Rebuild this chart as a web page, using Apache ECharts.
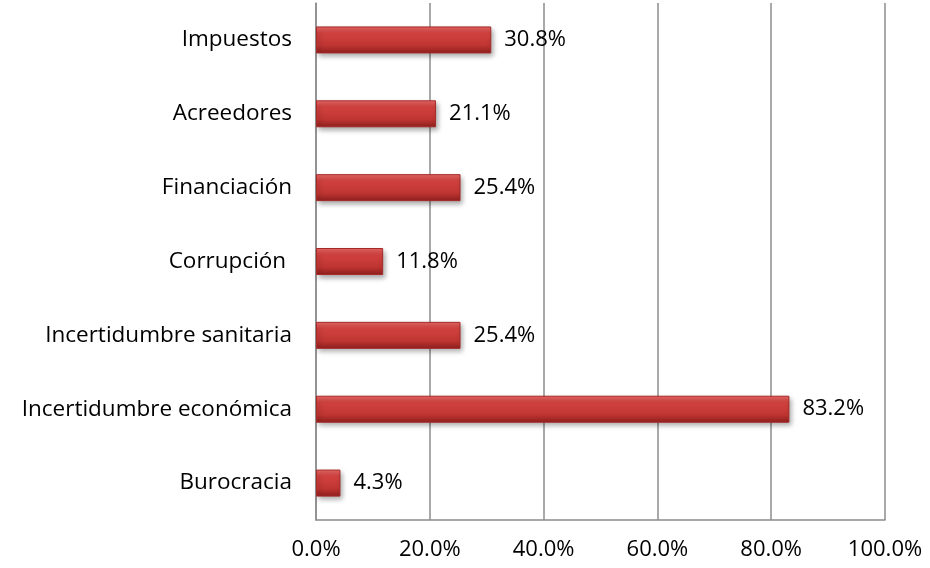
<!DOCTYPE html>
<html>
<head>
<meta charset="utf-8">
<script src="https://cdn.jsdelivr.net/npm/echarts@6/dist/echarts.min.js"></script>
<style>
    html, body { margin: 0; padding: 0; background: #fff; }
    #main { width: 930px; height: 568px; }
</style>
</head>
<body>
<div id="main"></div>
<script>
    // categorias de abajo hacia arriba
    var categories = ['Burocracia', 'Incertidumbre económica', 'Incertidumbre sanitaria', 'Corrupción ', 'Financiación', 'Acreedores', 'Impuestos'];
    var values = [4.3, 83.2, 25.4, 11.8, 25.4, 21.1, 30.8];
    var xTicks = [0, 20, 40, 60, 80, 100];

    var fontFam = '"Open Sans", sans-serif';
    var chart = echarts.init(document.getElementById('main'));
    chart.setOption({
        animation: false,
        grid: {
            left: 316,
            right: 45,
            top: 3,
            bottom: 48
        },
        xAxis: {
            type: 'value',
            min: xTicks[0],
            max: xTicks[xTicks.length - 1],
            interval: 20,
            axisLine: { show: true, lineStyle: { color: '#8c8c8c', width: 1.5 } },
            axisTick: { show: false },
            splitLine: { show: true, lineStyle: { color: '#8c8c8c', width: 1.5 } },
            axisLabel: {
                margin: 19,
                color: '#000',
                fontSize: 22,
                fontFamily: fontFam,
                formatter: function (v) { return v.toFixed(1) + '%'; }
            }
        },
        yAxis: {
            type: 'category',
            data: categories,
            axisLine: { show: true, lineStyle: { color: '#8c8c8c', width: 1.5 } },
            axisTick: { show: false },
            axisLabel: {
                margin: 24,
                color: '#000',
                fontSize: 22.5,
                fontFamily: fontFam
            }
        },
        series: [{
            type: 'bar',
            data: values,
            barWidth: 27,
            itemStyle: {
                color: new echarts.graphic.LinearGradient(0, 0, 0, 1, [
                    { offset: 0, color: '#e86a68' },
                    { offset: 0.25, color: '#d2423f' },
                    { offset: 0.7, color: '#bf3532' },
                    { offset: 1, color: '#8e1f1d' }
                ]),
                borderColor: '#a52a28',
                borderWidth: 1,
                shadowColor: 'rgba(0,0,0,0.35)',
                shadowBlur: 5,
                shadowOffsetX: 2,
                shadowOffsetY: 3
            },
            label: {
                show: true,
                position: 'right',
                distance: 13,
                color: '#000',
                fontSize: 22,
                fontFamily: fontFam,
                formatter: function (p) { return p.value.toFixed(1) + '%'; }
            }
        }]
    });
</script>
</body>
</html>
